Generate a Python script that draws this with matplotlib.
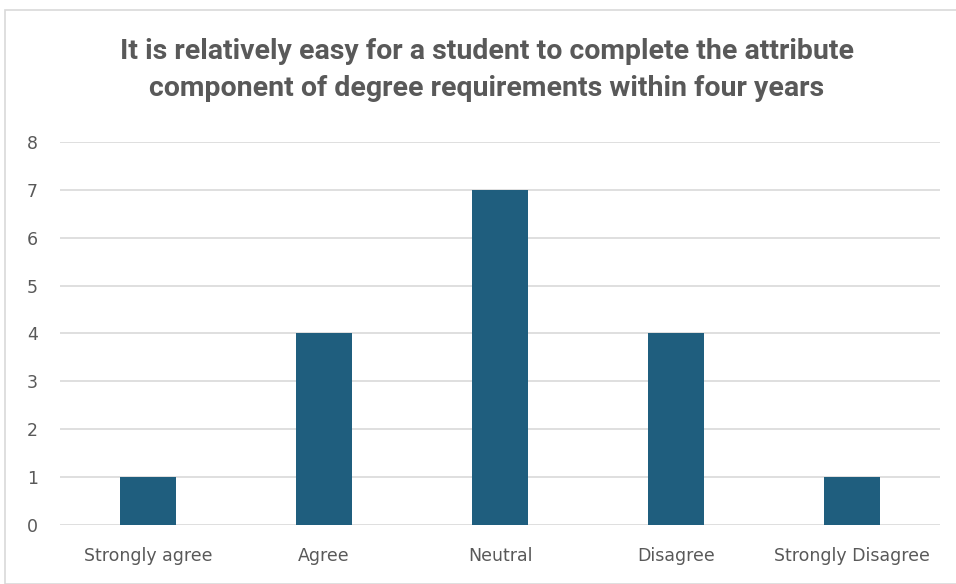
import matplotlib.pyplot as plt
from matplotlib.patches import Rectangle

categories = ["Strongly agree", "Agree", "Neutral", "Disagree", "Strongly Disagree"]
counts = [1, 4, 7, 4, 1]
title = ("It is relatively easy for a student to complete the attribute\n"
         "component of degree requirements within four years")

fig = plt.figure(figsize=(9.56, 5.84), dpi=100)
ax = fig.add_axes([0.0628, 0.101, 0.9205, 0.656])

# light chart frame
fig.patches.append(Rectangle((5 / 956, 0), 2, 1 - 10 / 584, transform=fig.transFigure,
                             fill=False, edgecolor="#d9d9d9", linewidth=1.2))

x = range(len(categories))
ax.bar(x, counts, width=0.32, color="#1f5e7e", zorder=3)

ax.set_xlim(-0.5, len(categories) - 0.5)
ax.set_ylim(0, 8)
ax.set_yticks(range(0, 9))
ax.set_xticks(list(x))
ax.set_xticklabels(categories)
ax.grid(axis="y", color="#d9d9d9", linewidth=1.2, zorder=0)
for s in ax.spines.values():
    s.set_visible(False)
ax.tick_params(length=0, labelsize=12.5, colors="#595959")
ax.tick_params(axis="y", pad=16)
ax.tick_params(axis="x", pad=16)

fig.text(0.509, 0.88, title, ha="center", va="center", fontsize=20.5,
         fontweight="bold", color="#595959", family="Roboto", linespacing=1.45)

fig.savefig("out.png", dpi=100)
